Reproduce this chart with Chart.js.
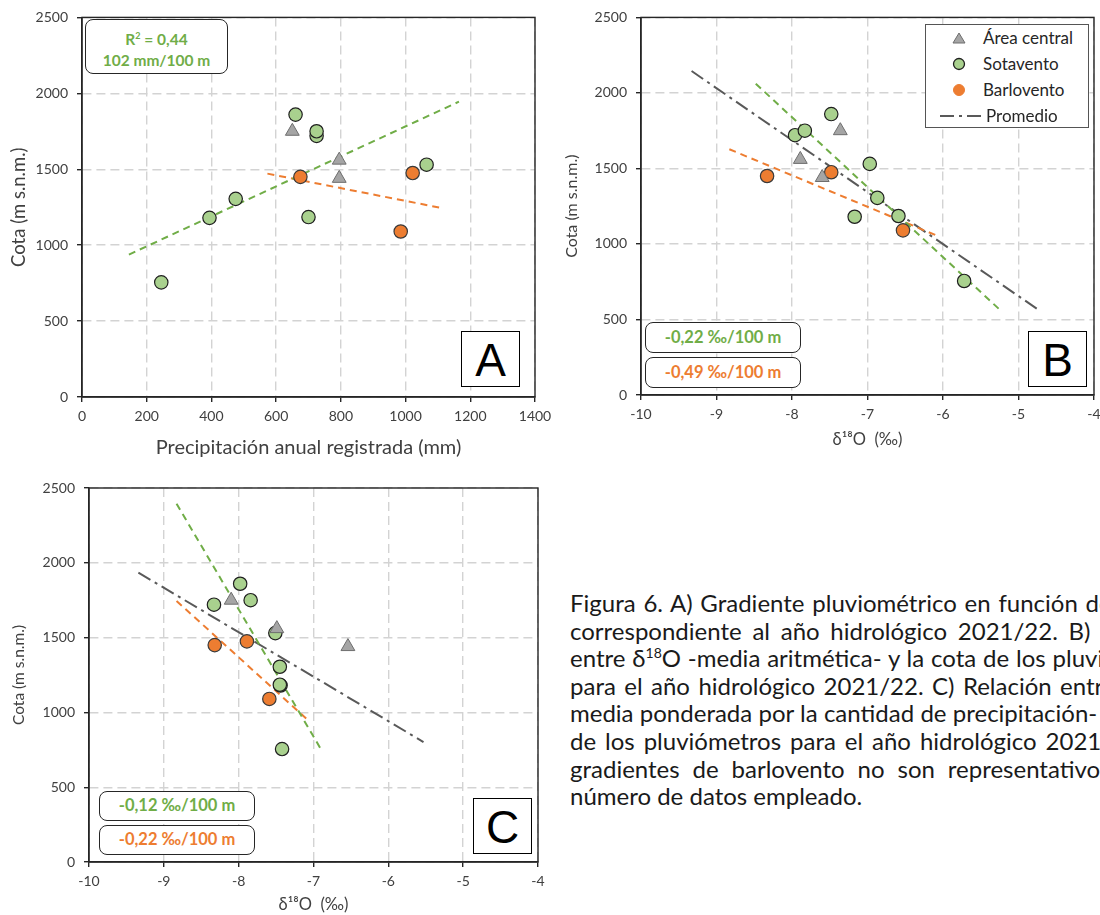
<!DOCTYPE html>
<html lang="es">
<head>
<meta charset="utf-8">
<title>Figura 6</title>
<script src="https://cdn.jsdelivr.net/npm/chart.js@4.4.1/dist/chart.umd.min.js"></script>
<style>
  html, body { margin: 0; padding: 0; }
  body { width: 1100px; height: 915px; overflow: hidden; position: relative; background: #fff; font-family: Lato, 'Noto Sans', sans-serif; }
  canvas { position: absolute; }
  .nota { position: absolute; box-sizing: border-box; border: 1.6px solid #262626; border-radius: 8px; background: #fff;
          font-weight: bold; font-size: 16.5px; text-align: center; }
  .verde { color: #70ad47; }
  .naranja { color: #ed7d31; }
  .letra { position: absolute; box-sizing: border-box; border: 1px solid #000; background: #fff;
           font-family: 'Liberation Sans', Arial, sans-serif; font-size: 46px; text-align: center; }
  #leyenda { position: absolute; left: 925px; top: 24px; width: 164px; height: 104px; box-sizing: border-box;
             border: 1.5px solid #555; background: #fff; font-size: 17px; color: #262626; }
  #leyenda .fila { position: absolute; left: 0; height: 26px; line-height: 26px; width: 100%; }
  #leyenda svg { position: absolute; top: 6px; }
  #leyenda span { position: absolute; left: 57px; }
  #pie { position: absolute; left: 570px; top: 589px; width: 2000px; white-space: nowrap; font-size: 24px; line-height: 27.6px; color: #1a1a1a; }
  #pie div { text-align: left; }
  #pie.justificado div { text-align: justify; text-align-last: justify; }
  #pie.justificado div.ultima { text-align: left; text-align-last: left; }
  #pie sup { font-size: 14px; line-height: 0; }
</style>
</head>
<body>
<canvas id="graficoA" width="560" height="460" style="left:0;top:0"></canvas>
<canvas id="graficoB" width="560" height="460" style="left:560px;top:0"></canvas>
<canvas id="graficoC" width="560" height="445" style="left:0;top:470px"></canvas>

<div class="nota verde" style="left:85px;top:19px;width:143px;height:55px;line-height:21px;padding-top:5px;font-size:15.5px">R<sup style="font-size:9px">2</sup> = 0,44<br>102 mm/100 m</div>
<div class="letra" style="left:461px;top:331px;width:59px;height:56px;line-height:56px">A</div>

<div class="nota verde" style="left:645px;top:322px;width:156px;height:31px;line-height:28px">-0,22 ‰/100 m</div>
<div class="nota naranja" style="left:645px;top:357px;width:156px;height:31px;line-height:28px">-0,49 ‰/100 m</div>
<div class="letra" style="left:1028px;top:331px;width:59px;height:56px;line-height:56px">B</div>

<div class="nota verde" style="left:99px;top:791px;width:156px;height:30px;line-height:27px">-0,12 ‰/100 m</div>
<div class="nota naranja" style="left:99px;top:825px;width:156px;height:30px;line-height:27px">-0,22 ‰/100 m</div>
<div class="letra" style="left:473px;top:798px;width:59px;height:56px;line-height:56px">C</div>

<div id="leyenda">
  <div class="fila" style="top:0px"><svg width="14" height="14" style="left:26px"><polygon points="7,2 13,12 1,12" fill="#a5a5a5" stroke="#6e6e6e" stroke-width="1"/></svg><span>Área central</span></div>
  <div class="fila" style="top:26px"><svg width="14" height="14" style="left:26px"><circle cx="7" cy="7" r="5.5" fill="#a9d18e" stroke="#1f1f1f" stroke-width="1.3"/></svg><span>Sotavento</span></div>
  <div class="fila" style="top:52px"><svg width="14" height="14" style="left:26px"><circle cx="7" cy="7" r="5.5" fill="#ed7d31" stroke="#ed7d31" stroke-width="1"/></svg><span>Barlovento</span></div>
  <div class="fila" style="top:78px"><svg width="46" height="14" style="left:14px"><line x1="0" y1="7" x2="44" y2="7" stroke="#595959" stroke-width="2" stroke-dasharray="14 5 3 5 14"/></svg><span style="left:60px">Promedio</span></div>
</div>

<div id="pie">
  <div><span>Figura 6. A) Gradiente pluviométrico en función de la cota</span></div>
  <div><span>correspondiente al año hidrológico 2021/22. B) Relación</span></div>
  <div><span>entre δ<sup>18</sup>O -media aritmética- y la cota de los pluviómetros</span></div>
  <div><span>para el año hidrológico 2021/22. C) Relación entre δ<sup>18</sup>O -</span></div>
  <div><span>media ponderada por la cantidad de precipitación- y la cota</span></div>
  <div><span>de los pluviómetros para el año hidrológico 2021/22. Los</span></div>
  <div><span>gradientes de barlovento no son representativos por el</span></div>
  <div class="ultima"><span>número de datos empleado.</span></div>
</div>

<script>
// Cotas de los pluviómetros (m s.n.m.)
const cotaCentral = [1440, 1560, 1750];
const cotaSota = [755, 1180, 1185, 1305, 1530, 1720, 1750, 1860];
const cotaBarl = [1090, 1450, 1475];

// A) precipitación anual registrada (mm)
const precipCentral = [795, 795, 650];
const precipSota = [245, 394, 700, 475, 1065, 725, 725, 660];
const precipBarl = [985, 675, 1022];

// B) d18O, media aritmética (‰)
const d18oMediaCentral = [-7.60, -7.89, -7.36];
const d18oMediaSota = [-5.72, -7.17, -6.59, -6.87, -6.97, -7.96, -7.83, -7.48];
const d18oMediaBarl = [-6.53, -8.33, -7.48];

// C) d18O, media ponderada (‰)
const d18oPondCentral = [-6.54, -7.49, -8.10];
const d18oPondSota = [-7.42, -7.44, -7.45, -7.45, -7.51, -8.33, -7.84, -7.98];
const d18oPondBarl = [-7.59, -8.32, -7.89];

// rectas de ajuste (extremos)
const rectaSotaA_x = [145, 1165], rectaSotaA_y = [938, 1945];
const rectaBarlA_x = [573, 1113], rectaBarlA_y = [1471, 1244];
const rectaSotaB_x = [-8.48, -5.24], rectaSotaB_y = [2061, 561];
const rectaBarlB_x = [-8.83, -6.07], rectaBarlB_y = [1627, 1053];
const rectaMediaB_x = [-9.33, -4.71], rectaMediaB_y = [2145, 555];
const rectaSotaC_x = [-8.83, -6.91], rectaSotaC_y = [2395, 762];
const rectaBarlC_x = [-8.83, -7.08], rectaBarlC_y = [1745, 951];
const rectaMediaC_x = [-9.34, -5.53], rectaMediaC_y = [1934, 802];

// ejes
const cotaTicks = { min: 0, max: 2500, step: 500 };
const precipTicks = { min: 0, max: 1400, step: 200 };
const isoTicks = { min: -10, max: -4, step: 1 };

// pie de figura: ancho de columna = línea más larga, el resto justificado
const pie = document.getElementById('pie');
let anchoPie = 0;
pie.querySelectorAll('span').forEach(s => { anchoPie = Math.max(anchoPie, s.getBoundingClientRect().width); });
pie.style.width = Math.ceil(anchoPie + 1) + 'px';
pie.style.whiteSpace = 'normal';
pie.classList.add('justificado');

Chart.defaults.font.family = "Lato, 'Noto Sans', sans-serif";
Chart.defaults.color = '#404040';

const TINTA = '#404040';

function puntos(xs, ys) {
  return xs.map((x, i) => ({ x, y: ys[i] }));
}

function seriesPuntos(xC, xS, xB) {
  return [
    { label: 'Área central', data: puntos(xC, cotaCentral), pointStyle: 'triangle', pointRadius: 8,
      backgroundColor: '#a5a5a5', borderColor: '#6e6e6e', borderWidth: 1, order: 0 },
    { label: 'Sotavento', data: puntos(xS, cotaSota), pointStyle: 'circle', pointRadius: 6.7,
      backgroundColor: '#a9d18e', borderColor: '#1f1f1f', borderWidth: 1.2, order: 0 },
    { label: 'Barlovento', data: puntos(xB, cotaBarl), pointStyle: 'circle', pointRadius: 6.7,
      backgroundColor: '#ed7d31', borderColor: '#3a3a3a', borderWidth: 1.2, order: 0 }
  ];
}

function recta(xs, ys, color, dash) {
  return { data: puntos(xs, ys), showLine: true, pointRadius: 0, borderColor: color,
           borderWidth: 2, borderDash: dash, fill: false, order: 1 };
}

// marco alrededor del área de trazado
const marco = {
  id: 'marco',
  beforeDatasetsDraw(chart) {
    const { ctx, chartArea: a } = chart;
    ctx.save();
    ctx.strokeStyle = '#262626';
    ctx.lineWidth = 1.4;
    ctx.strokeRect(a.left, a.top, a.right - a.left, a.bottom - a.top);
    ctx.restore();
  }
};

function opciones(c) {
  const rejilla = { color: '#d3d3d3', lineWidth: 1.4, tickColor: '#262626', tickLength: 5, tickBorderDash: [] };
  const borde = { color: '#262626', width: 1.4, dash: [9, 5] };
  const fuenteTicks = { size: 14 };
  return {
    responsive: false,
    animation: false,
    layout: { padding: c.pad },
    plugins: { legend: { display: false }, tooltip: { enabled: false } },
    scales: {
      x: {
        type: 'linear', min: c.xt.min, max: c.xt.max,
        afterFit: s => { s.height = c.xH; },
        ticks: { stepSize: c.xt.step, padding: 6, maxRotation: 0, font: fuenteTicks, color: TINTA, callback: v => String(v) },
        grid: rejilla, border: borde,
        title: { display: true, text: c.xTitulo, color: TINTA, font: { size: c.fTitX }, padding: { top: 0, bottom: c.xTitPad } }
      },
      y: {
        type: 'linear', min: cotaTicks.min, max: cotaTicks.max,
        afterFit: s => { s.width = c.yW; },
        ticks: { stepSize: cotaTicks.step, padding: 9, font: fuenteTicks, color: TINTA, callback: v => String(v) },
        grid: rejilla, border: borde,
        title: { display: true, text: 'Cota (m s.n.m.)', color: TINTA, font: { size: c.fTitY }, padding: { top: c.yTitPad, bottom: 0 } }
      }
    }
  };
}

new Chart(document.getElementById('graficoA'), {
  type: 'scatter',
  data: {
    datasets: [
      ...seriesPuntos(precipCentral, precipSota, precipBarl),
      recta(rectaSotaA_x, rectaSotaA_y, '#70ad47', [7, 5]),
      recta(rectaBarlA_x, rectaBarlA_y, '#ed7d31', [7, 5])
    ]
  },
  options: opciones({ pad: { top: 16, right: 25, left: 0, bottom: 0 }, xH: 63, yW: 82, xt: precipTicks,
    xTitulo: 'Precipitación anual registrada (mm)', fTitX: 20, fTitY: 18.5, xTitPad: 0, yTitPad: 8 }),
  plugins: [marco]
});

new Chart(document.getElementById('graficoB'), {
  type: 'scatter',
  data: {
    datasets: [
      ...seriesPuntos(d18oMediaCentral, d18oMediaSota, d18oMediaBarl),
      recta(rectaSotaB_x, rectaSotaB_y, '#70ad47', [7, 5]),
      recta(rectaBarlB_x, rectaBarlB_y, '#ed7d31', [7, 5]),
      recta(rectaMediaB_x, rectaMediaB_y, '#595959', [14, 5, 3, 5])
    ]
  },
  options: opciones({ pad: { top: 14, right: 26, left: 0, bottom: 0 }, xH: 65, yW: 81, xt: isoTicks,
    xTitulo: 'δ¹⁸O  (‰)', fTitX: 16.5, fTitY: 16, xTitPad: 10, yTitPad: 2 }),
  plugins: [marco]
});

new Chart(document.getElementById('graficoC'), {
  type: 'scatter',
  data: {
    datasets: [
      ...seriesPuntos(d18oPondCentral, d18oPondSota, d18oPondBarl),
      recta(rectaSotaC_x, rectaSotaC_y, '#70ad47', [7, 5]),
      recta(rectaBarlC_x, rectaBarlC_y, '#ed7d31', [7, 5]),
      recta(rectaMediaC_x, rectaMediaC_y, '#595959', [14, 5, 3, 5])
    ]
  },
  options: opciones({ pad: { top: 18, right: 22, left: 0, bottom: 0 }, xH: 53, yW: 89, xt: isoTicks,
    xTitulo: 'δ¹⁸O  (‰)', fTitX: 16.5, fTitY: 15.5, xTitPad: 0, yTitPad: 10 }),
  plugins: [marco]
});
</script>
</body>
</html>
